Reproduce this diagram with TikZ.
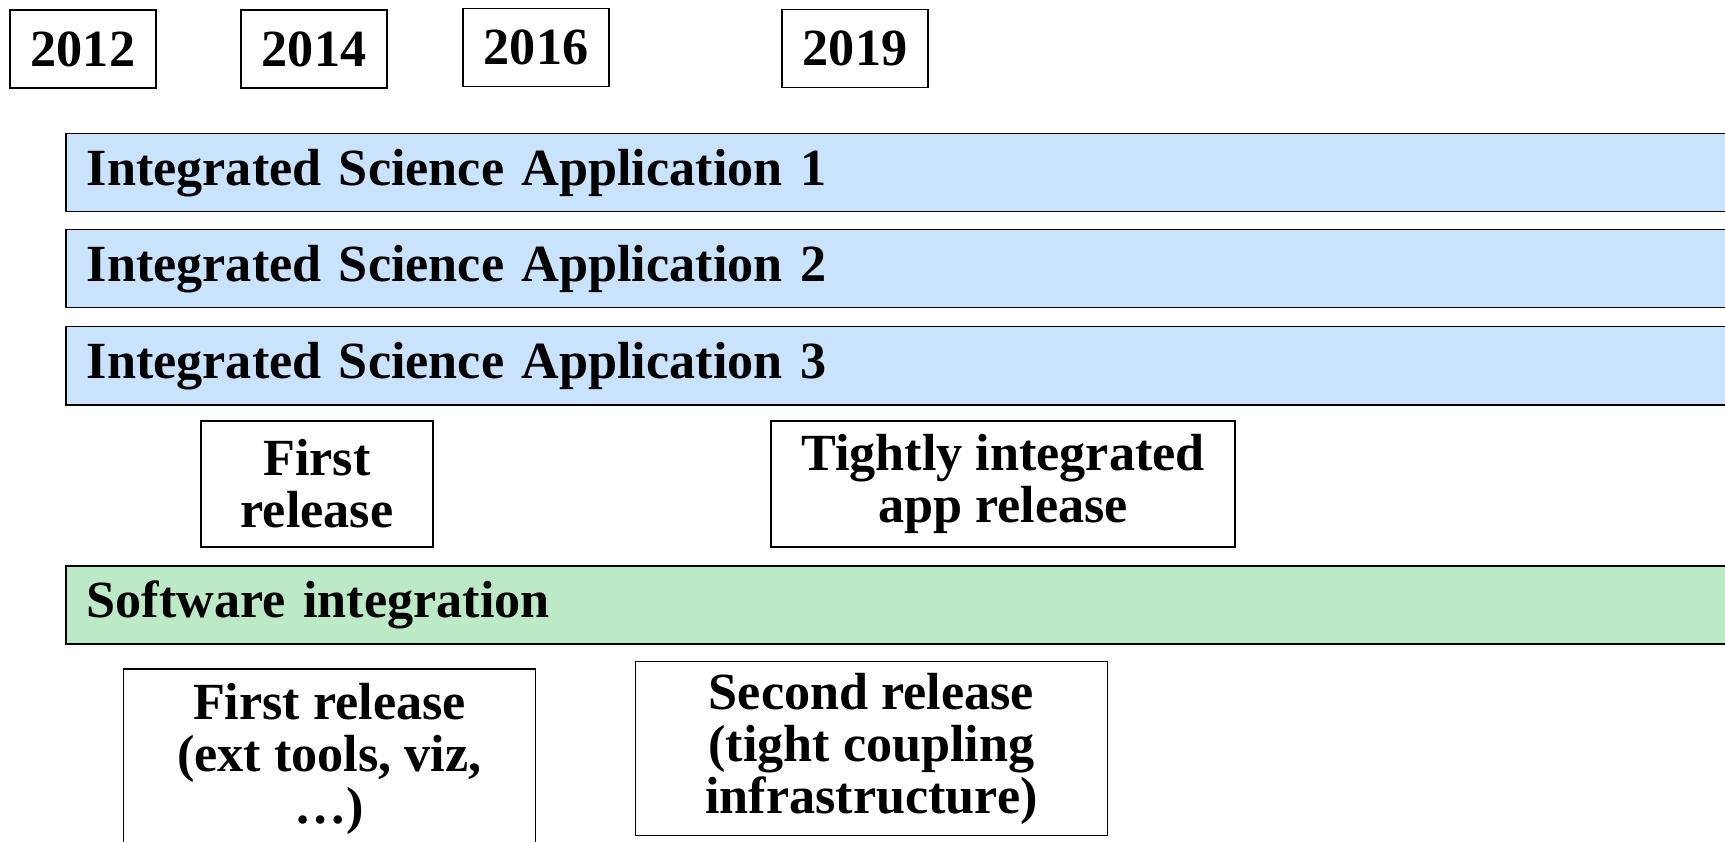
\documentclass[tikz,border=0pt]{standalone}
\usepackage{fontspec}
\setmainfont{Liberation Serif}
\definecolor{appblue}{HTML}{CAE3FC}
\definecolor{intgreen}{HTML}{BCE9C6}
\begin{document}
\begin{tikzpicture}[x=1pt,y=-1pt,
  base/.style={draw=black, line width=1.5pt, font=\fontsize{52.2}{52}\selectfont\bfseries, inner sep=0pt, align=center},
  yearbox/.style={base, fill=white, minimum width=146pt, minimum height=78pt},
  appbar/.style={base, fill=appblue, anchor=north west, text width=1640pt, align=left, inner xsep=21pt, minimum height=78pt},
  intbar/.style={appbar, fill=intgreen},
  relbox/.style={base, fill=white}
]
\useasboundingbox (0,0) rectangle (1725,842);
\clip (0,0) rectangle (1725,842);

\node[yearbox] (y2012) at (83,49) {2012};
\node[yearbox] (y2014) at (314,49) {2014};
\node[yearbox] (y2016) at (536,47.5) {2016};
\node[yearbox] (y2019) at (855,48.5) {2019};

\node[appbar] (isa1) at (65,133) {Integrated Science Application 1};
\node[appbar] (isa2) at (65,229) {Integrated Science Application 2};
\node[appbar] (isa3) at (65,326) {Integrated Science Application 3};

\node[relbox, minimum width=232pt, minimum height=126pt] (firstapp) at (317,484) {First\\release};
\node[relbox, minimum width=464pt, minimum height=126pt] (tightapp) at (1003,484) {Tightly integrated\\app release};

\node[intbar] (swint) at (65,565) {Software integration};

\node[relbox, minimum width=412pt, minimum height=180pt] (firstsw) at (329.5,759) {First release\\(ext tools, viz,\\…)};
\node[relbox, minimum width=472pt, minimum height=174pt] (secondsw) at (871.5,748.5) {Second release\\(tight coupling\\infrastructure)};
\end{tikzpicture}
\end{document}
